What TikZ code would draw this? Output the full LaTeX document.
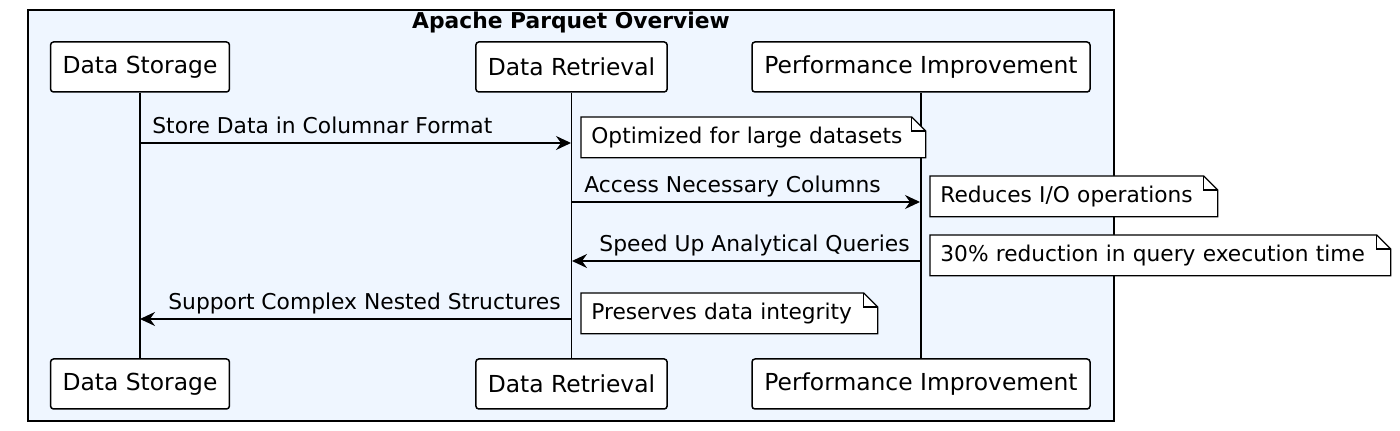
\documentclass[tikz,border=0pt]{standalone}
\usepackage{fontspec}
\setmainfont{DejaVu Sans}
\usetikzlibrary{arrows.meta,positioning,backgrounds}
\definecolor{framebg}{RGB}{239,246,255}
\tikzset{
  actor/.style={draw=black, fill=white, line width=0.75pt, rounded corners=1.5pt, minimum height=25pt, inner xsep=6pt, font=\fontsize{11.7}{14}\selectfont},
  lifeline/.style={line width=0.6pt},
  msg/.style={-{Stealth[length=7.5pt, width=7pt, inset=2.5pt]}, line width=0.8pt},
  msglabel/.style={inner sep=0pt, font=\fontsize{10.9}{13}\selectfont},
  memo/.style={anchor=north west, inner xsep=5pt, inner ysep=0pt, minimum height=20pt, align=left, font=\fontsize{10.85}{13}\selectfont},
  memoline/.style={draw=black, fill=white, line width=0.6pt},
  outerframe/.style={draw=black, fill=framebg, line width=0.75pt}
}
% note outline with folded corner, drawn behind the text
\newcommand{\memoframe}[1]{%
  \begin{scope}[on background layer]
    \draw[memoline] (#1.north west) -- ([xshift=-7pt]#1.north east) -- ([yshift=-7pt]#1.north east) -- (#1.south east) -- (#1.south west) -- cycle;
    \draw[memoline, fill=none] ([xshift=-7pt]#1.north east) |- ([yshift=-7pt]#1.north east);
  \end{scope}}

\begin{document}
\begin{tikzpicture}[x=0.5pt, y=-0.5pt]
  \useasboundingbox (0,0) rectangle (1400,431);
  \begin{scope}[on background layer]
    \draw[outerframe] (28,10) rectangle (1114,421);
  \end{scope}
  \node[font=\bfseries\fontsize{10.9}{13}\selectfont] (title) at (571,22) {Apache Parquet Overview};

  % participants
  \node[actor, minimum width=89pt] (ds) at (140,67) {Data Storage};
  \node[actor, minimum width=95.5pt] (dr) at (571.5,67) {Data Retrieval};
  \node[actor, minimum width=169pt] (pi) at (921,67) {Performance Improvement};
  \node[actor, minimum width=89pt] (ds2) at (140,384) {Data Storage};
  \node[actor, minimum width=95.5pt] (dr2) at (571.5,384) {Data Retrieval};
  \node[actor, minimum width=169pt] (pi2) at (921,384) {Performance Improvement};
  \begin{scope}[on background layer]
    \draw[lifeline] (ds) -- (ds2);
    \draw[lifeline] (dr) -- (dr2);
    \draw[lifeline] (pi) -- (pi2);
  \end{scope}

  % messages
  \coordinate (m1a) at (140,143); \coordinate (m1b) at (571,143);
  \coordinate (m2a) at (572,202); \coordinate (m2b) at (920,202);
  \coordinate (m3a) at (921,261); \coordinate (m3b) at (572,261);
  \coordinate (m4a) at (571,319); \coordinate (m4b) at (140,319);
  \draw[msg] (m1a) -- (m1b);
  \draw[msg] (m2a) -- (m2b);
  \draw[msg] (m3a) -- (m3b);
  \draw[msg] (m4a) -- (m4b);
  \node[msglabel, anchor=base west] (l1) at (152,134) {Store Data in Columnar Format};
  \node[msglabel, anchor=base west] (l2) at (584,193) {Access Necessary Columns};
  \node[msglabel, anchor=base east] (l3) at (910,252) {Speed Up Analytical Queries};
  \node[msglabel, anchor=base east] (l4) at (561,310) {Support Complex Nested Structures};

  % notes
  \node[memo, text width=162pt] (n1) at (581,117) {Optimized for large datasets};
  \memoframe{n1}
  \node[memo, text width=133.5pt] (n2) at (930,176) {Reduces I/O operations};
  \memoframe{n2}
  \node[memo, text width=220pt] (n3) at (930,235) {30\% reduction in query execution time};
  \memoframe{n3}
  \node[memo, text width=138pt] (n4) at (581,293) {Preserves data integrity};
  \memoframe{n4}
\end{tikzpicture}
\end{document}
